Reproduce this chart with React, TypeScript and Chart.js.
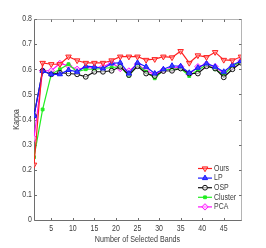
import React, { useEffect, useRef } from "react";
import { Chart, registerables } from "chart.js";

Chart.register(...registerables);

const bands = [1,3,5,7,9,11,13,15,17,19,21,23,25,27,29,31,33,35,37,39,41,43,45,47,49];
const ours = [0.22,0.625,0.62,0.62,0.65,0.635,0.625,0.625,0.625,0.635,0.65,0.65,0.65,0.637,0.64,0.65,0.647,0.672,0.625,0.655,0.648,0.668,0.637,0.635,0.65];
const lp = [0.415,0.593,0.58,0.58,0.597,0.59,0.612,0.61,0.603,0.623,0.626,0.583,0.626,0.61,0.583,0.6,0.614,0.612,0.586,0.606,0.623,0.61,0.59,0.617,0.633];
const osp = [0.415,0.594,0.58,0.586,0.583,0.58,0.57,0.59,0.59,0.594,0.61,0.577,0.612,0.583,0.573,0.593,0.594,0.603,0.583,0.583,0.612,0.603,0.568,0.6,0.626];
const cluster = [0.25,0.44,0.58,0.6,0.62,0.59,0.6,0.6,0.603,0.607,0.61,0.574,0.617,0.59,0.564,0.597,0.6,0.603,0.573,0.597,0.617,0.6,0.577,0.613,0.63];
const pca = [0.325,0.594,0.594,0.623,0.614,0.6,0.607,0.606,0.61,0.626,0.603,0.593,0.62,0.594,0.58,0.597,0.603,0.61,0.58,0.61,0.62,0.61,0.583,0.61,0.633];
const seriesNames = ["Ours", "LP", "OSP", "Cluster", "PCA"];
const xTicks = [5,10,15,20,25,30,35,40,45];
const yTicks = [0,0.1,0.2,0.3,0.4,0.5,0.6,0.7,0.8];
const xTitle = "Number of Selected Bands";
const yTitle = "Kappa";

const FONT = "'Liberation Sans', Arial, sans-serif";
const TEXT = "#3c3c3c";
const SQUEEZE = 0.84;

function narrowText(ctx: any, text: string, x: number, y: number, align: string, size: number, rot = 0) {
  ctx.save();
  ctx.font = `${size}px ${FONT}`;
  ctx.textAlign = align;
  ctx.textBaseline = "middle";
  ctx.translate(x, y);
  if (rot) ctx.rotate(rot);
  ctx.scale(SQUEEZE, 1);
  ctx.fillText(text, 0, 0);
  ctx.restore();
}

function drawMarker(ctx: any, ds: any, x: number, y: number) {
  const r = ds.pointRadius;
  ctx.save();
  ctx.translate(x, y);
  ctx.rotate(((ds.pointRotation || 0) * Math.PI) / 180);
  ctx.beginPath();
  const s = ds.pointStyle;
  if (s === "triangle") {
    ctx.moveTo(0, -r);
    ctx.lineTo(r * 0.87, r * 0.5);
    ctx.lineTo(-r * 0.87, r * 0.5);
    ctx.closePath();
  } else if (s === "circle") {
    ctx.arc(0, 0, r, 0, Math.PI * 2);
  } else if (s === "rect") {
    ctx.rect(-r * 0.7, -r * 0.7, r * 1.4, r * 1.4);
  } else if (s === "rectRot") {
    ctx.moveTo(0, -r); ctx.lineTo(r, 0); ctx.lineTo(0, r); ctx.lineTo(-r, 0); ctx.closePath();
  }
  ctx.fillStyle = ds.pointBackgroundColor;
  ctx.fill();
  ctx.strokeStyle = ds.borderColor;
  ctx.lineWidth = 1;
  ctx.stroke();
  ctx.restore();
}

const framePlugin = {
  id: "frame",
  beforeDatasetsDraw(chart: any) {
    const { ctx, chartArea: a, scales } = chart;
    const L = Math.round(a.left) + 0.5, R = Math.round(a.right) + 0.5;
    const T = Math.round(a.top) + 0.5, B = Math.round(a.bottom) + 0.5;
    ctx.save();
    ctx.lineWidth = 1;
    ctx.strokeStyle = "#b4b4b4";
    ctx.beginPath();
    ctx.moveTo(L, T); ctx.lineTo(R, T); ctx.lineTo(R, B);
    ctx.stroke();
    ctx.strokeStyle = "#6e6e6e";
    ctx.beginPath();
    ctx.moveTo(L, T); ctx.lineTo(L, B); ctx.lineTo(R, B);
    ctx.stroke();
    const tl = 2.5;
    ctx.beginPath();
    for (const v of xTicks) {
      const x = Math.round(scales.x.getPixelForValue(v)) + 0.5;
      ctx.moveTo(x, B); ctx.lineTo(x, B - tl);
      ctx.moveTo(x, T); ctx.lineTo(x, T + tl);
    }
    for (const v of yTicks) {
      const y = Math.round(scales.y.getPixelForValue(v)) + 0.5;
      ctx.moveTo(L, y); ctx.lineTo(L + tl, y);
      ctx.moveTo(R, y); ctx.lineTo(R - tl, y);
    }
    ctx.stroke();

    ctx.fillStyle = TEXT;
    for (const v of xTicks) {
      narrowText(ctx, String(v), scales.x.getPixelForValue(v), a.bottom + 8.5, "center", 8.3);
    }
    for (const v of yTicks) {
      narrowText(ctx, String(Math.round(v * 10) / 10), a.left - 2, scales.y.getPixelForValue(v), "right", 8.3);
    }
    narrowText(ctx, xTitle, (a.left + a.right) / 2, a.bottom + 19.5, "center", 8.5);
    narrowText(ctx, yTitle, 17, (a.top + a.bottom) / 2, "center", 8.5, -Math.PI / 2);
    ctx.restore();
  },
  afterDraw(chart: any) {
    const { ctx, chartArea: a } = chart;
    ctx.save();
    const x0 = a.right - 43;
    let y = a.bottom - 51.5;
    chart.data.datasets.forEach((ds: any) => {
      ctx.strokeStyle = ds.borderColor;
      ctx.lineWidth = 1.2;
      ctx.beginPath();
      ctx.moveTo(x0, y); ctx.lineTo(x0 + 14, y);
      ctx.stroke();
      drawMarker(ctx, ds, x0 + 7, y);
      ctx.fillStyle = TEXT;
      narrowText(ctx, ds.label, x0 + 16, y, "left", 8.3);
      y += 9.6;
    });
    ctx.restore();
  },
};

export default function App() {
  const ref = useRef<HTMLCanvasElement | null>(null);
  useEffect(() => {
    if (!ref.current) return;
    const mk = (label: string, data: number[], color: string, style: string, fill: string, rot = 0, r = 3) => ({
      label,
      data: data.map((v, i) => ({ x: bands[i], y: v })),
      borderColor: color,
      backgroundColor: color,
      pointBackgroundColor: fill,
      pointBorderColor: color,
      pointStyle: style,
      pointRotation: rot,
      pointRadius: r,
      pointBorderWidth: 1,
      borderWidth: 1.2,
      tension: 0,
    });
    const chart = new Chart(ref.current, {
      type: "line",
      data: {
        datasets: [
          mk(seriesNames[0], ours, "#ff2020", "triangle", "rgba(255,160,160,0.6)", 180, 3.2),
          mk(seriesNames[1], lp, "#1a1aff", "triangle", "#4040ff", 0, 3),
          mk(seriesNames[2], osp, "#111111", "circle", "rgba(255,255,255,0.6)", 0, 2.4),
          mk(seriesNames[3], cluster, "#22ee22", "rect", "#22ee22", 0, 2),
          mk(seriesNames[4], pca, "#ff10ff", "rectRot", "rgba(255,200,255,0.7)", 0, 3.2),
        ],
      },
      options: {
        animation: false,
        responsive: false,
        layout: { padding: { top: 19, right: 25, left: 0, bottom: 0 } },
        plugins: { legend: { display: false }, tooltip: { enabled: false } },
        scales: {
          x: {
            type: "linear",
            min: 1,
            max: 49,
            grid: { display: false, drawTicks: false },
            border: { display: false },
            afterBuildTicks: (s: any) => { s.ticks = xTicks.map((v) => ({ value: v })); },
            afterFit: (s: any) => { s.height = 28; },
            ticks: { display: false },
            title: { display: false },
          },
          y: {
            min: 0,
            max: 0.8,
            grid: { display: false, drawTicks: false },
            border: { display: false },
            afterBuildTicks: (s: any) => { s.ticks = yTicks.map((v) => ({ value: v })); },
            afterFit: (s: any) => { s.width = 34; },
            ticks: { display: false },
            title: { display: false },
          },
        },
      },
      plugins: [framePlugin],
    } as any);
    return () => chart.destroy();
  }, []);
  return (
    <div style={{ position: "fixed", left: 0, top: 0, width: 266, height: 248, background: "#fff" }}>
      <canvas ref={ref} width={266} height={248} style={{ width: 266, height: 248 }} />
    </div>
  );
}
